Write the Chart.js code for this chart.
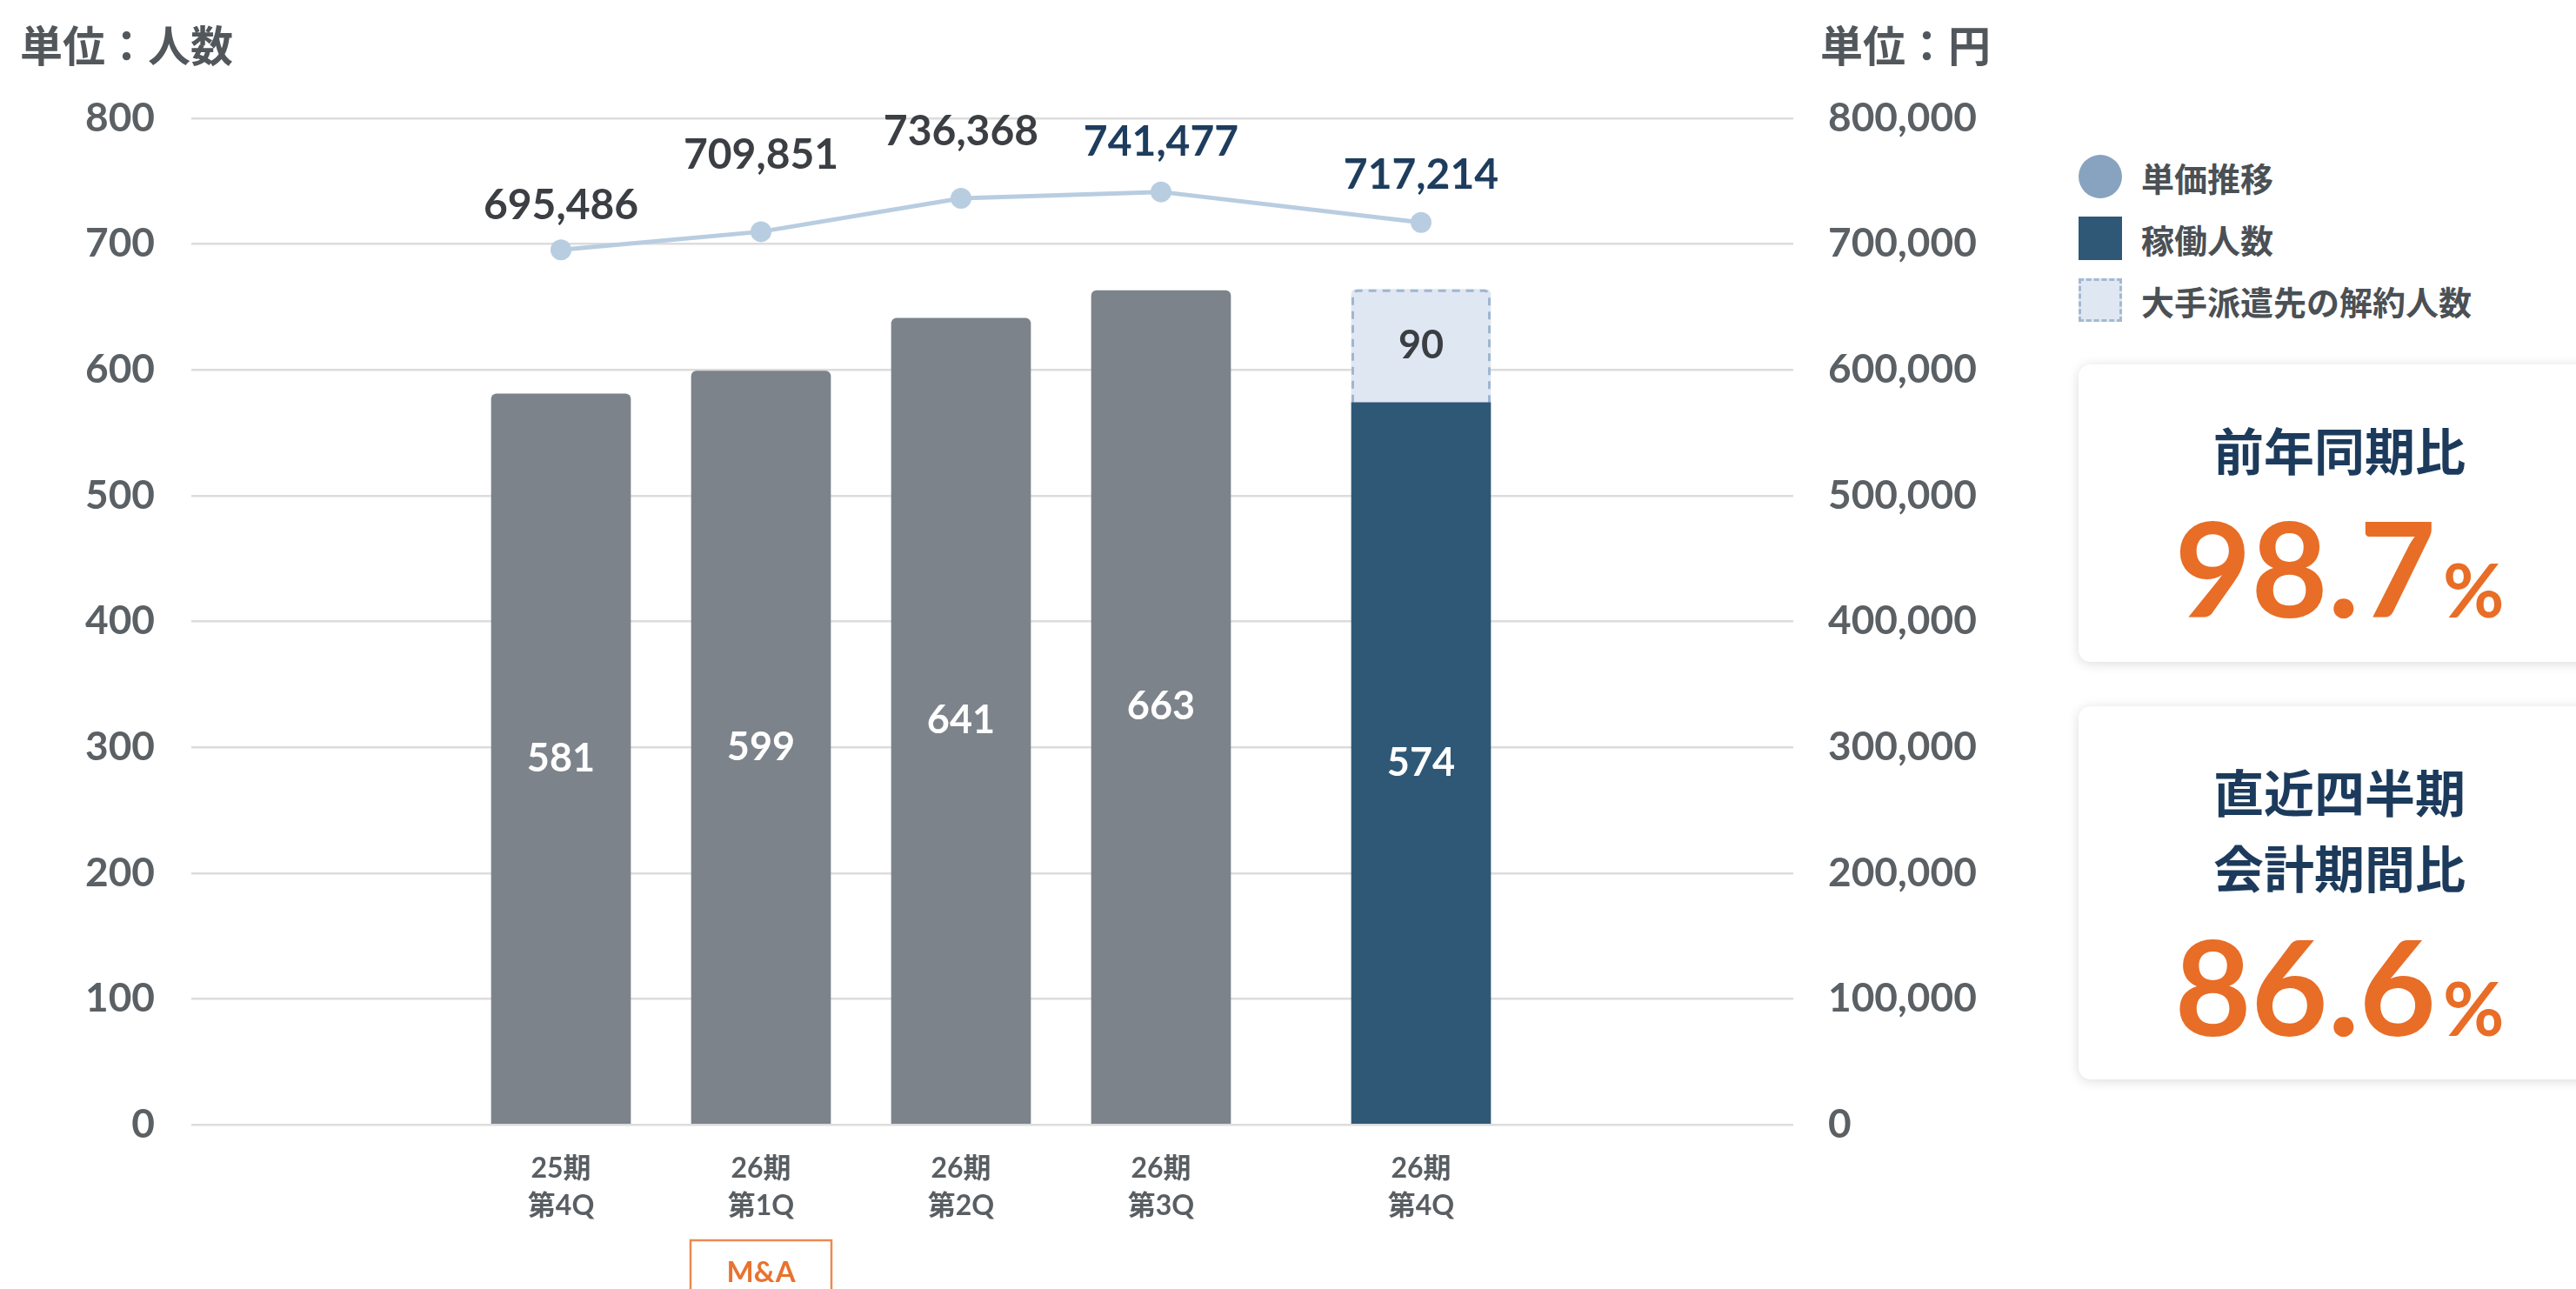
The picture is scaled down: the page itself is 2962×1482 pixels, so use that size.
<!DOCTYPE html>
<html lang="ja">
<head>
<meta charset="utf-8">
<title>稼働人数と単価推移</title>
<script src="https://cdn.jsdelivr.net/npm/chart.js@4.4.1/dist/chart.umd.min.js"></script>
<style>
  html, body { margin: 0; padding: 0; background: #fff; }
  body {
    width: 2962px; height: 1482px; position: relative; overflow: hidden;
    font-family: Lato, "Noto Sans CJK JP", sans-serif;
  }
  #chart { position: absolute; left: 0; top: 0; }
  .unit {
    position: absolute; top: 49px; transform: translateY(-50%);
    font-family: "Noto Sans CJK JP", sans-serif;
    font-size: 49px; font-weight: 700; color: #52575c; line-height: 1;
  }
  .legend { position: absolute; left: 2390px; top: 178px; }
  .legend .item {
    display: flex; align-items: center; height: 50px; margin-bottom: 21px;
    font-family: "Noto Sans CJK JP", sans-serif;
    font-size: 38px; font-weight: 700; color: #4b5055;
  }
  .legend .mark { width: 50px; height: 50px; margin-right: 22px; box-sizing: border-box; }
  .card {
    position: absolute; left: 2390px; width: 640px;
    background: #fff; border-radius: 14px;
    box-shadow: 0 2px 14px rgba(0, 0, 0, 0.14);
  }
  .card .line {
    position: absolute; left: 0; width: 600px; text-align: center;
    transform: translateY(-50%); line-height: 1; white-space: nowrap;
  }
  .card .title {
    font-family: "Noto Sans CJK JP", sans-serif;
    font-size: 58px; font-weight: 700; color: #1c3b5c;
  }
  .card .ratio {
    font-family: Lato, sans-serif;
    font-size: 152px; font-weight: 700; color: #e86d26;
  }
  .card .ratio small { font-size: 86px; margin-left: 8px; }
</style>
</head>
<body>
<canvas id="chart" width="2330" height="1482"></canvas>

<div class="unit" style="left:23px;">単位：人数</div>
<div class="unit" style="left:2093px;">単位：円</div>

<div class="legend">
  <div class="item"><div class="mark" style="background:#87a3c0;border-radius:50%;"></div>単価推移</div>
  <div class="item"><div class="mark" style="background:#2f5877;"></div>稼働人数</div>
  <div class="item"><div class="mark" style="background:#dfe7f3;border:3px dashed #a3b8d2;"></div>大手派遣先の解約人数</div>
</div>

<div class="card" style="top:419px;height:342px;">
  <div class="line title" style="top:97px;">前年同期比</div>
  <div class="line ratio" style="top:232px;">98.7<small>%</small></div>
</div>
<div class="card" style="top:812px;height:429px;">
  <div class="line title" style="top:97px;">直近四半期</div>
  <div class="line title" style="top:184px;">会計期間比</div>
  <div class="line ratio" style="top:320px;">86.6<small>%</small></div>
</div>

<script>
// quarters (two-line tick labels)
const periods = [
  ['25期', '第4Q'],
  ['26期', '第1Q'],
  ['26期', '第2Q'],
  ['26期', '第3Q'],
  ['26期', '第4Q']
];
// working staff per quarter
const activeStaff = [581, 599, 641, 663, 574];
// staff lost from the large client, only in the last quarter
const cancelledStaff = [null, null, null, null, 90];
// average unit price (yen)
const unitPrice = [695486, 709851, 736368, 741477, 717214];

// slot of each quarter on the x axis; the latest quarter sits a little apart
const xSlot = [0, 1, 2, 3, 4.3];
// how far each price label sits above its point
const priceLift = [51, 88, 77, 57, 54];

const NUM_FONT = 'Lato, "Noto Sans CJK JP", sans-serif';
const GRAY_BAR = '#7c838b';
const NAVY_BAR = '#2f5877';

const toXY = (arr) => arr.map((v, i) => ({ x: xSlot[i], y: v }));

// dashed outline round the cancelled segment (top and sides)
const dashedOutline = {
  id: 'dashedOutline',
  afterDatasetDraw(chart, args) {
    if (args.index !== 1) return;
    const ctx = chart.ctx;
    args.meta.data.forEach((bar, i) => {
      if (cancelledStaff[i] == null) return;
      const { x, y, base, width } = bar.getProps(['x', 'y', 'base', 'width'], true);
      const l = x - width / 2 + 1.5, r = x + width / 2 - 1.5, t = y + 1.5, rad = 6;
      ctx.save();
      ctx.strokeStyle = '#a0b6d0';
      ctx.lineWidth = 3;
      ctx.setLineDash([9, 7]);
      ctx.beginPath();
      ctx.moveTo(l, base);
      ctx.lineTo(l, t + rad);
      ctx.arcTo(l, t, l + rad, t, rad);
      ctx.lineTo(r - rad, t);
      ctx.arcTo(r, t, r, t + rad, rad);
      ctx.lineTo(r, base);
      ctx.stroke();
      ctx.restore();
    });
  }
};

// numbers inside the bars and above the price points
const valueLabels = {
  id: 'valueLabels',
  afterDatasetsDraw(chart) {
    const ctx = chart.ctx;
    ctx.save();
    ctx.textAlign = 'center';
    ctx.textBaseline = 'middle';
    [activeStaff, cancelledStaff].forEach((values, di) => {
      chart.getDatasetMeta(di).data.forEach((bar, i) => {
        if (values[i] == null) return;
        const { x, y, base } = bar.getProps(['x', 'y', 'base'], true);
        ctx.font = '700 45px ' + NUM_FONT;
        ctx.fillStyle = di === 0 ? '#ffffff' : '#3b3f44';
        ctx.fillText(String(values[i]), x, (y + base) / 2);
      });
    });
    chart.getDatasetMeta(2).data.forEach((pt, i) => {
      ctx.font = '700 48px ' + NUM_FONT;
      ctx.fillStyle = i < 3 ? '#3b3f44' : '#1e3d5e';
      ctx.fillText(unitPrice[i].toLocaleString('en-US'), pt.x, pt.y - priceLift[i]);
    });
    ctx.restore();
  }
};

// "M&A" tag under 26期第1Q
const maTag = {
  id: 'maTag',
  afterDraw(chart) {
    const ctx = chart.ctx;
    const x = chart.scales.x.getPixelForValue(xSlot[1]);
    const top = chart.chartArea.bottom + 133;
    ctx.save();
    ctx.strokeStyle = '#ea8a52';
    ctx.lineWidth = 2.5;
    ctx.strokeRect(x - 81, top, 162, 120);
    ctx.fillStyle = '#e8732f';
    ctx.font = '700 33px ' + NUM_FONT;
    ctx.textAlign = 'center';
    ctx.textBaseline = 'middle';
    ctx.fillText('M&A', x, top + 37);
    ctx.restore();
  }
};

new Chart(document.getElementById('chart'), {
  type: 'bar',
  data: {
    datasets: [{
      label: '稼働人数',
      data: toXY(activeStaff),
      backgroundColor: activeStaff.map((v, i) => (i === activeStaff.length - 1 ? NAVY_BAR : GRAY_BAR)),
      borderRadius: 6,
      borderSkipped: 'start',
      barThickness: 160,
      order: 1
    }, {
      label: '大手派遣先の解約人数',
      data: toXY(cancelledStaff),
      backgroundColor: '#dfe7f3',
      borderRadius: 6,
      borderSkipped: 'start',
      barThickness: 160,
      order: 1
    }, {
      type: 'line',
      label: '単価推移',
      data: toXY(unitPrice),
      yAxisID: 'y2',
      borderColor: '#b8cde0',
      borderWidth: 5,
      pointRadius: 12,
      pointBackgroundColor: '#b8cde0',
      pointBorderWidth: 0,
      tension: 0,
      order: 0
    }]
  },
  options: {
    responsive: false,
    animation: false,
    layout: { padding: { top: 136, left: 0, right: 0, bottom: 0 } },
    plugins: {
      legend: { display: false },
      tooltip: { enabled: false }
    },
    scales: {
      x: {
        type: 'linear',
        stacked: true,
        offset: false,
        min: -1.848,
        max: 6.161,
        grid: { display: false, drawTicks: false },
        border: { display: false },
        afterBuildTicks: (scale) => { scale.ticks = xSlot.map(v => ({ value: v })); },
        afterFit: (scale) => { scale.height = 189; },
        ticks: {
          autoSkip: false,
          maxRotation: 0,
          padding: 29,
          color: '#595e63',
          font: { family: NUM_FONT, size: 32, weight: '700', lineHeight: 1.35 },
          callback: (value, i) => periods[i]
        }
      },
      y: {
        position: 'left',
        stacked: true,
        min: 0,
        max: 800,
        ticks: {
          stepSize: 100,
          padding: 42,
          color: '#5b6065',
          font: { family: NUM_FONT, size: 46, weight: '700' }
        },
        grid: { color: '#dcdcdc', lineWidth: 2.5, drawTicks: false },
        border: { display: false },
        afterFit: (scale) => { scale.width = 220; }
      },
      y2: {
        position: 'right',
        min: 0,
        max: 800000,
        ticks: {
          stepSize: 100000,
          padding: 40,
          color: '#5b6065',
          font: { family: NUM_FONT, size: 46, weight: '700' },
          callback: (v) => v.toLocaleString('en-US')
        },
        grid: { display: false, drawTicks: false },
        border: { display: false },
        afterFit: (scale) => { scale.width = 268; }
      }
    }
  },
  plugins: [dashedOutline, valueLabels, maTag]
});
</script>
</body>
</html>
